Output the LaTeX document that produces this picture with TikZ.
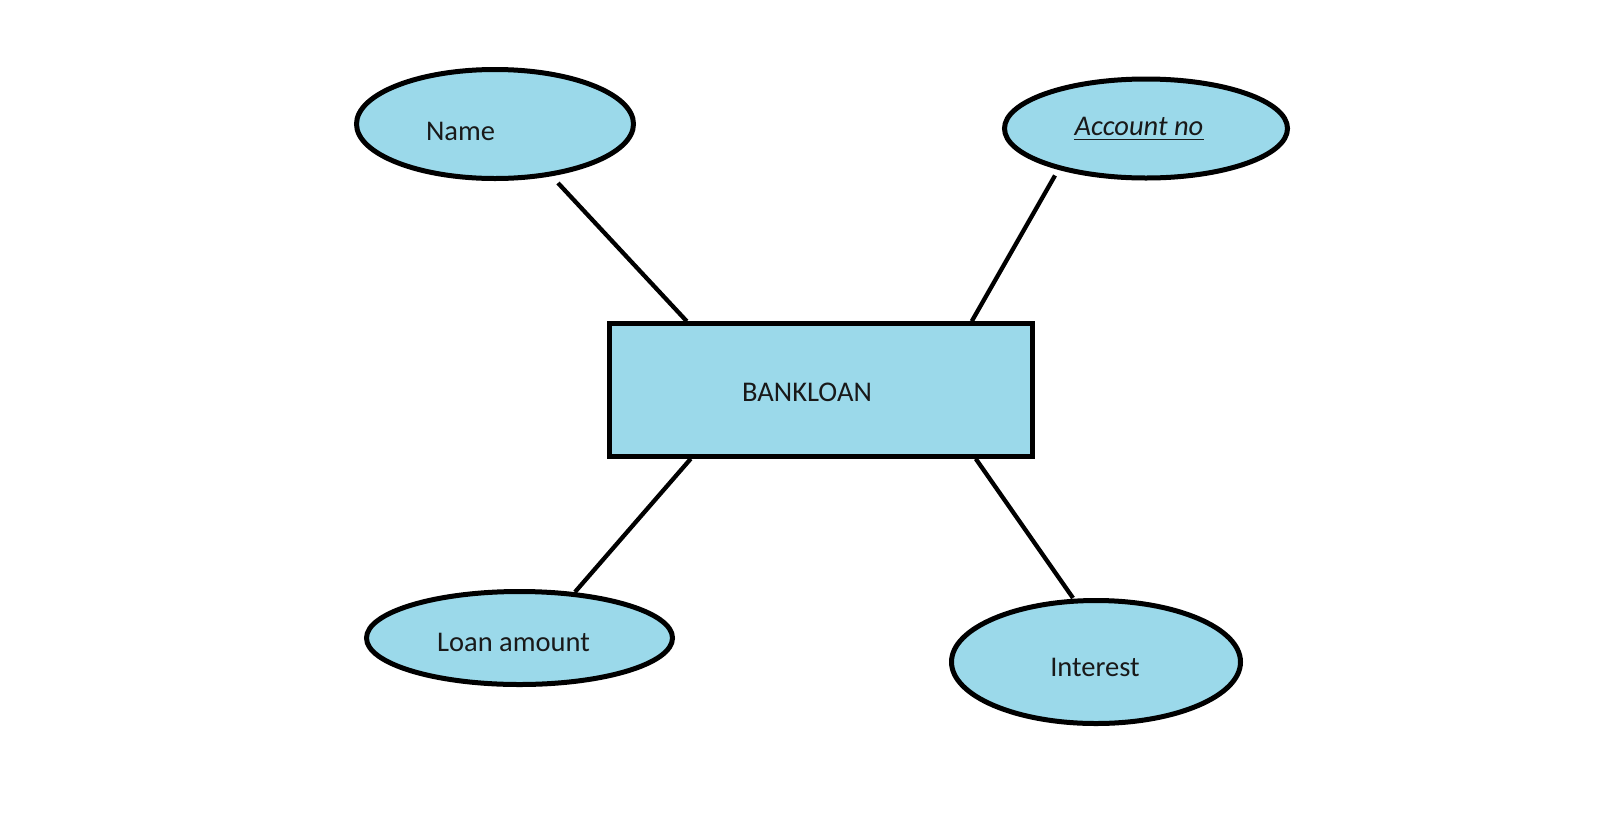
\documentclass[tikz,border=0pt]{standalone}
\usepackage{fontspec}
\setmainfont{Carlito}
\usetikzlibrary{shapes.geometric,calc}
\definecolor{attrfill}{RGB}{155,217,234}
\tikzset{
  attr/.style={ellipse, draw=black, line width=5pt, fill=attrfill, inner sep=0pt},
  entity/.style={rectangle, draw=black, line width=4.5pt, fill=attrfill, inner sep=0pt,
    minimum width=423pt, minimum height=133pt},
  lbl/.style={anchor=base, inner sep=0pt, font=\fontsize{28.5}{34}\selectfont, text=black!90},
  conn/.style={draw=black, line width=4.3pt}
}
\begin{document}
\begin{tikzpicture}[x=1pt,y=-1pt]
\useasboundingbox (0,0) rectangle (1622,836);
% attribute ellipses
\node[attr, minimum width=277pt, minimum height=109pt] (nm) at (495,124) {};
\node[attr, minimum width=283pt, minimum height=99pt] (ac) at (1146,128.5) {};
\node[attr, minimum width=306pt, minimum height=93pt] (ln) at (519.5,638) {};
\node[attr, minimum width=289pt, minimum height=123pt] (in) at (1096,662) {};
% entity
\node[entity] (bk) at (821,390) {};
% labels
\node[lbl] (nmt) at (460.5,140) {Name};
\node[lbl] (act) at (1139,135) {\itshape Account no};
\node[lbl] (lnt) at (513.5,651) {Loan amount};
\node[lbl] (int) at (1095,676) {Interest};
\node[lbl] (bkt) at (807,401) {BANKLOAN};
\draw[line width=1.6pt, black!90] ([yshift=-4.5pt]act.base west) -- ([yshift=-4.5pt]act.base east);
% connectors
\draw[conn] ($(nm.center)+(63,59)$) -- ([xshift=79.5pt]bk.north west);
\draw[conn] ($(ac.center)+(-91,47)$) -- ([xshift=364.5pt]bk.north west);
\draw[conn] ([xshift=83.5pt]bk.south west) -- ($(ln.center)+(55.5,-46)$);
\draw[conn] ([xshift=368.5pt]bk.south west) -- ($(in.center)+(-23,-64)$);
\end{tikzpicture}
\end{document}
